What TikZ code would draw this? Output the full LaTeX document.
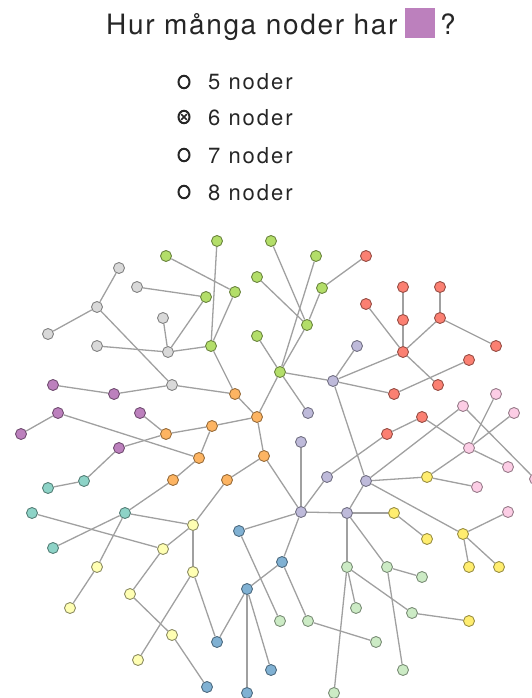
\documentclass[tikz,border=0pt]{standalone}
\usepackage{fontspec}
\setmainfont{TeX Gyre Heros}
\newfontfamily\spacedfont[LetterSpace=6]{TeX Gyre Heros}
\newfontfamily\widefont[LetterSpace=9]{TeX Gyre Heros}
\usetikzlibrary{backgrounds,shapes.geometric}

% Set3 palette
\definecolor{cteal}{HTML}{8DD3C7}
\definecolor{cpale}{HTML}{FFFFB3}
\definecolor{clav}{HTML}{BEBADA}
\definecolor{cred}{HTML}{FB8072}
\definecolor{cblue}{HTML}{80B1D3}
\definecolor{corange}{HTML}{FDB462}
\definecolor{cgreen}{HTML}{B3DE69}
\definecolor{cpink}{HTML}{FCCDE5}
\definecolor{cgray}{HTML}{D9D9D9}
\definecolor{cpurple}{HTML}{BC80BD}
\definecolor{cmint}{HTML}{CCEBC5}
\definecolor{cyellow}{HTML}{FFED6F}
\definecolor{edgecol}{HTML}{A0A0A0}

\tikzset{
  vtx/.style={circle, inner sep=0pt, minimum size=11pt, line width=0.9pt},
  ngray/.style={vtx, fill=cgray, draw=cgray!60!black},
  ngreen/.style={vtx, fill=cgreen, draw=cgreen!60!black},
  nred/.style={vtx, fill=cred, draw=cred!60!black},
  nlav/.style={vtx, fill=clav, draw=clav!60!black},
  npink/.style={vtx, fill=cpink, draw=cpink!60!black},
  nyellow/.style={vtx, fill=cyellow, draw=cyellow!60!black},
  npurple/.style={vtx, fill=cpurple, draw=cpurple!60!black},
  norange/.style={vtx, fill=corange, draw=corange!60!black},
  nteal/.style={vtx, fill=cteal, draw=cteal!60!black},
  npale/.style={vtx, fill=cpale, draw=cpale!55!black},
  nblue/.style={vtx, fill=cblue, draw=cblue!60!black},
  nmint/.style={vtx, fill=cmint, draw=cmint!60!black},
  link/.style={draw=edgecol, line width=1.3pt},
  radio/.style={ellipse, draw=black!85, line width=2pt, minimum width=11pt, minimum height=12.5pt, inner sep=0pt},
  opt/.style={anchor=base west, font=\widefont\fontsize{22}{26}\selectfont, text=black!85, inner sep=0pt},
  head/.style={anchor=base west, font=\spacedfont\fontsize{28}{32}\selectfont, text=black!85, inner sep=0pt},
}

\begin{document}
\begin{tikzpicture}[x=1pt, y=-1pt]
\useasboundingbox (0,0) rectangle (531,698);

% Question
\node[head] (title) at (106,35) {Hur många noder har};
\node[fill=cpurple, minimum size=30pt, inner sep=0pt, anchor=north west] (swatch) at (405,8) {};
\node[head] (qmark) at (440,35) {?};

% Answer options
\node[radio] (r1) at (184,82) {};
\node[radio] (r2) at (184,117) {};
\node[radio] (r3) at (184,155) {};
\node[radio] (r4) at (184,192) {};
\draw[line width=1.5pt, black!85] ([shift={(-2.8pt,-2.8pt)}]r2.center) -- ([shift={(2.8pt,2.8pt)}]r2.center)
  ([shift={(-2.8pt,2.8pt)}]r2.center) -- ([shift={(2.8pt,-2.8pt)}]r2.center);
\node[opt] (o1) at (208,90) {5 noder};
\node[opt] (o2) at (208,125) {6 noder};
\node[opt] (o3) at (208,163) {7 noder};
\node[opt] (o4) at (208,200) {8 noder};

% Gray
\node[ngray] (g1) at (119,268) {};
\node[ngray] (g2) at (137,287) {};
\node[ngray] (g3) at (97,307) {};
\node[ngray] (g4) at (48,334) {};
\node[ngray] (g5) at (163,318) {};
\node[ngray] (g6) at (97,346) {};
\node[ngray] (g7) at (168,352) {};
\node[ngray] (g8) at (172,385) {};
% Green
\node[ngreen] (G1) at (217,241) {};
\node[ngreen] (G2) at (166,256) {};
\node[ngreen] (G3) at (235,292) {};
\node[ngreen] (G4) at (206,297) {};
\node[ngreen] (G5) at (211,346) {};
\node[ngreen] (G6) at (271,241) {};
\node[ngreen] (G7) at (316,256) {};
\node[ngreen] (G8) at (257,277) {};
\node[ngreen] (G9) at (322,288) {};
\node[ngreen] (G10) at (307,325) {};
\node[ngreen] (G11) at (257,336) {};
\node[ngreen] (G12) at (280,372) {};
% Red
\node[nred] (R1) at (366,256) {};
\node[nred] (R2) at (403,287) {};
\node[nred] (R3) at (440,287) {};
\node[nred] (R4) at (366,304) {};
\node[nred] (R5) at (403,320) {};
\node[nred] (R6) at (440,318) {};
\node[nred] (R7) at (403,352) {};
\node[nred] (R8) at (496,346) {};
\node[nred] (R9) at (469,360) {};
\node[nred] (R10) at (438,385) {};
\node[nred] (R11) at (394,394) {};
\node[nred] (R12) at (422,417) {};
\node[nred] (R13) at (387,434) {};
% Lavender
\node[nlav] (L1) at (357,346) {};
\node[nlav] (L2) at (333,381) {};
\node[nlav] (L3) at (308,413) {};
\node[nlav] (L4) at (301,442) {};
\node[nlav] (L5) at (327,477) {};
\node[nlav] (L6) at (366,481) {};
\node[nlav] (L7) at (301,512) {};
\node[nlav] (L8) at (347,513) {};
% Pink
\node[npink] (P1) at (496,394) {};
\node[npink] (P2) at (463,406) {};
\node[npink] (P3) at (514,413) {};
\node[npink] (P4) at (469,448) {};
\node[npink] (P5) at (508,467) {};
\node[npink] (P6) at (477,487) {};
\node[npink] (P7) at (535,479) {};
\node[npink] (P8) at (508,512) {};
% Yellow
\node[nyellow] (Y1) at (427,477) {};
\node[nyellow] (Y2) at (394,513) {};
\node[nyellow] (Y3) at (427,539) {};
\node[nyellow] (Y4) at (463,534) {};
\node[nyellow] (Y5) at (469,567) {};
\node[nyellow] (Y6) at (499,567) {};
\node[nyellow] (Y7) at (469,621) {};
% Purple
\node[npurple] (U1) at (53,385) {};
\node[npurple] (U2) at (114,394) {};
\node[npurple] (U3) at (58,413) {};
\node[npurple] (U4) at (21,434) {};
\node[npurple] (U5) at (140,413) {};
\node[npurple] (U6) at (119,448) {};
% Orange
\node[norange] (O1) at (235,394) {};
\node[norange] (O2) at (257,417) {};
\node[norange] (O3) at (212,426) {};
\node[norange] (O4) at (166,434) {};
\node[norange] (O5) at (199,458) {};
\node[norange] (O6) at (264,456) {};
\node[norange] (O7) at (173,480) {};
\node[norange] (O8) at (227,480) {};
% Teal
\node[nteal] (T1) at (84,481) {};
\node[nteal] (T2) at (48,488) {};
\node[nteal] (T3) at (32,513) {};
\node[nteal] (T4) at (125,513) {};
\node[nteal] (T5) at (53,548) {};
% Pale yellow
\node[npale] (W1) at (193,525) {};
\node[npale] (W2) at (163,549) {};
\node[npale] (W3) at (97,567) {};
\node[npale] (W4) at (193,572) {};
\node[npale] (W5) at (130,594) {};
\node[npale] (W6) at (70,608) {};
\node[npale] (W7) at (172,635) {};
\node[npale] (W8) at (138,660) {};
% Blue
\node[nblue] (B1) at (239,531) {};
\node[nblue] (B2) at (282,562) {};
\node[nblue] (B3) at (247,589) {};
\node[nblue] (B4) at (217,642) {};
\node[nblue] (B5) at (271,670) {};
\node[nblue] (B6) at (207,687) {};
\node[nblue] (B7) at (247,693) {};
% Mint
\node[nmint] (M1) at (347,567) {};
\node[nmint] (M2) at (387,567) {};
\node[nmint] (M3) at (422,577) {};
\node[nmint] (M4) at (356,608) {};
\node[nmint] (M5) at (412,613) {};
\node[nmint] (M6) at (280,621) {};
\node[nmint] (M7) at (308,621) {};
\node[nmint] (M8) at (376,642) {};
\node[nmint] (M9) at (403,670) {};
\node[nmint] (M10) at (334,693) {};

\begin{scope}[on background layer]
\foreach \a/\b in {
  g1/g3, g3/g4, g3/g8, g2/G4, G4/g7, g5/g7, g6/g7, g7/G5,
  U1/U2, U2/g8, g8/O1,
  G2/G3, G1/G5, G3/G5, G5/O1, G6/G10, G8/G10, G9/G10, R1/G9,
  G7/G12, G10/G12, G11/G12, G12/L2, G12/O2, G12/L3,
  R2/R5, R5/R7, R3/R6, R6/R8, R6/R7, R4/R7, R7/L2, R7/R10,
  R9/R11, R11/L2, R12/R13, R13/L5, R12/P4,
  L1/L2, L2/L6, L4/L7, L5/L7, L7/L8, L8/Y2, L6/L8, L6/Y1, L6/Y4, L6/P2,
  L7/B2, L7/B1, L8/M1, L8/M2, O6/L7,
  P1/P4, P3/P4, P4/P5, P4/Y1, Y1/P6, P2/P7, Y4/P8,
  Y2/Y3, Y4/Y5, Y4/Y6, M5/Y7,
  U3/U4, U3/O5, U5/O4, O4/U6, U6/T1,
  O1/O2, O2/O3, O2/O6, O3/O4, O3/O5, O5/O7, O7/T4, O6/O8, O8/W1,
  T1/T2, T4/W1, T3/W2, T4/T5, T4/W3,
  W1/W2, W2/W5, W5/W7, W7/B6, W1/W4, W4/W8, W4/B4, W3/W6,
  B4/B3, B3/B7, B3/B5, B3/B2, B2/M7, B1/M6,
  M7/M8, M1/M4, M1/M10, M1/M5, M2/M3, M2/M9}
  \draw[link] (\a) -- (\b);
\end{scope}
\end{tikzpicture}
\end{document}
